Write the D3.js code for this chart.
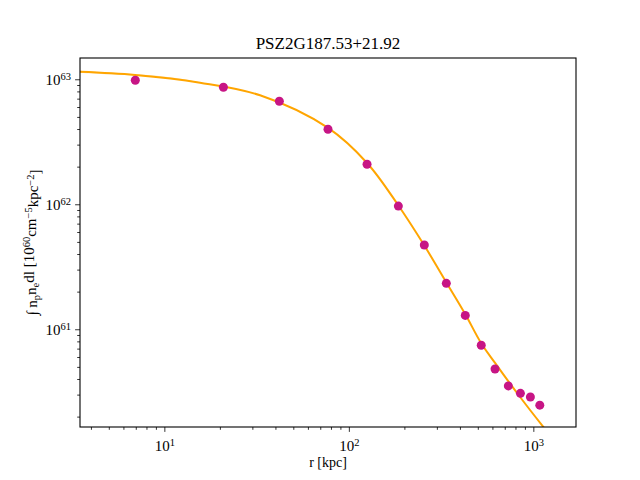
<!DOCTYPE html>
<html>
<head>
<meta charset="utf-8">
<script src="https://cdn.jsdelivr.net/npm/d3@7"></script>
<style>
  body { margin: 0; background: #fff; }
  text { font-family: "Liberation Serif", "DejaVu Serif", serif; fill: #000; }
</style>
</head>
<body>
<div id="chart"></div>
<script>
// measured points (r in kpc, surface brightness integral)
var radius = [6.96, 20.9, 42.0, 77.1, 125.5, 185.5, 256.5, 337.5, 427.6, 522, 620, 732, 851, 964, 1084];
var profile = [9.82e62, 8.63e62, 6.67e62, 3.98e62, 2.09e62, 9.67e61, 4.72e61, 2.33e61, 1.29e61,
               7.45e60, 4.81e60, 3.52e60, 3.07e60, 2.87e60, 2.47e60];

// fitted model
var modelR = [3.3, 6.94, 15.61, 33.02, 77.16, 125.5, 184.8, 255.6, 336.4, 426.4, 520.6, 620.1, 729.4, 847.3, 959.6, 1157];
var modelF = [1.15e63, 1.082e63, 9.39e62, 7.45e62, 4.08e62, 2.14e62, 9.87e61, 4.72e61, 2.39e61,
              1.33e61, 7.77e60, 5.38e60, 3.86e60, 2.87e60, 2.26e60, 1.59e60];

// uncertainty band at small radii
var bandR = [3.3, 5, 7.5, 11, 16];
var bandLo = [1.125e63, 1.095e63, 1.066e63, 1.02e63, 9.37e62];
var bandHi = [1.178e63, 1.13e63, 1.09e63, 1.032e63, 9.41e62];

var xTicks = [10, 100, 1000];
var yTicks = [1e61, 1e62, 1e63];

var width = 640,
    height = 480,
    margin = {top: 58, left: 80, bottom: 53, right: 64},
    w = width - margin.left - margin.right,
    h = height - margin.top - margin.bottom;

var svg = d3.select("#chart").append("svg")
    .attr("width", width)
    .attr("height", height);

var g = svg.append("g")
    .attr("transform", "translate(" + margin.left + "," + margin.top + ")");

var x = d3.scaleLog().domain([3.49, 1703]).range([0, w]),
    y = d3.scaleLog().domain([1.652e60, 1.48e63]).range([h, 0]);

g.append("clipPath").attr("id", "clip")
    .append("rect").attr("width", w).attr("height", h);

var plot = g.append("g").attr("clip-path", "url(#clip)");

// band
var bandData = bandR.map(function (r, i) { return {r: r, lo: bandLo[i], hi: bandHi[i]}; });
plot.append("path")
    .datum(bandData)
    .attr("fill", "orange")
    .attr("opacity", 0.35)
    .attr("d", d3.area()
        .x(function (d) { return x(d.r); })
        .y0(function (d) { return y(d.lo); })
        .y1(function (d) { return y(d.hi); })
        .curve(d3.curveCatmullRom));

// model line
var modelData = modelR.map(function (r, i) { return {r: r, f: modelF[i]}; });
plot.append("path")
    .datum(modelData)
    .attr("fill", "none")
    .attr("stroke", "orange")
    .attr("stroke-width", 2)
    .attr("d", d3.line()
        .x(function (d) { return x(d.r); })
        .y(function (d) { return y(d.f); })
        .curve(d3.curveCatmullRom));

// points
plot.selectAll("circle")
    .data(radius)
    .enter().append("circle")
    .attr("cx", function (d) { return x(d); })
    .attr("cy", function (d, i) { return y(profile[i]); })
    .attr("r", 4.5)
    .attr("fill", "mediumvioletred");

// frame
g.append("rect")
    .attr("width", w).attr("height", h)
    .attr("fill", "none")
    .attr("stroke", "#000")
    .attr("stroke-width", 1.1);

function minorTicks(scale) {
    var d = scale.domain(), out = [];
    for (var e = Math.floor(Math.log10(d[0])); e <= Math.ceil(Math.log10(d[1])); e++) {
        for (var k = 2; k <= 9; k++) {
            var v = k * Math.pow(10, e);
            if (v >= d[0] && v <= d[1]) { out.push(v); }
        }
    }
    return out;
}

function supLabel(sel, exp) {
    sel.text("10").append("tspan")
        .attr("dy", "-0.45em")
        .attr("font-size", "0.7em")
        .text(exp);
}

// x axis
var xAxis = g.append("g").attr("transform", "translate(0," + h + ")");
xAxis.call(d3.axisBottom(x).tickValues(minorTicks(x)).tickSize(2.8).tickFormat(""));
xAxis.call(function (s) { s.select(".domain").remove(); });
var xMaj = g.append("g").attr("transform", "translate(0," + h + ")")
    .call(d3.axisBottom(x).tickValues(xTicks).tickSize(4.9).tickPadding(6).tickFormat(""));
xMaj.select(".domain").remove();
xMaj.selectAll(".tick text").remove();
xMaj.selectAll(".tick").append("text")
    .attr("y", 24)
    .attr("text-anchor", "middle")
    .attr("font-size", 15)
    .each(function (d) { supLabel(d3.select(this), Math.round(Math.log10(d))); });

// y axis
var yAxis = g.append("g")
    .call(d3.axisLeft(y).tickValues(minorTicks(y)).tickSize(2.8).tickFormat(""));
yAxis.select(".domain").remove();
var yMaj = g.append("g")
    .call(d3.axisLeft(y).tickValues(yTicks).tickSize(4.9).tickFormat(""));
yMaj.select(".domain").remove();
yMaj.selectAll(".tick text").remove();
yMaj.selectAll(".tick").append("text")
    .attr("x", -9)
    .attr("y", 5)
    .attr("text-anchor", "end")
    .attr("font-size", 15)
    .each(function (d) { supLabel(d3.select(this), Math.round(Math.log10(d))); });

g.selectAll(".tick line").attr("stroke", "#000").attr("stroke-width", 0.8);

// title
svg.append("text")
    .attr("x", margin.left + w / 2)
    .attr("y", 49)
    .attr("text-anchor", "middle")
    .attr("font-size", 17)
    .text("PSZ2G187.53+21.92");

// x label
svg.append("text")
    .attr("x", margin.left + w / 2)
    .attr("y", 467)
    .attr("text-anchor", "middle")
    .attr("font-size", 14)
    .text("r [kpc]");

// y label
var yl = svg.append("text")
    .attr("transform", "translate(37," + (margin.top + h / 2) + ") rotate(-90)")
    .attr("text-anchor", "middle")
    .attr("font-size", 15);
yl.append("tspan").text("\u222B n");
yl.append("tspan").attr("dy", "0.3em").attr("font-size", "0.7em").text("p");
yl.append("tspan").attr("dy", "-0.3em").text("n");
yl.append("tspan").attr("dy", "0.3em").attr("font-size", "0.7em").text("e");
yl.append("tspan").attr("dy", "-0.3em").text("dl [10");
yl.append("tspan").attr("dy", "-0.45em").attr("font-size", "0.7em").text("60");
yl.append("tspan").attr("dy", "0.45em").text("cm");
yl.append("tspan").attr("dy", "-0.45em").attr("font-size", "0.7em").text("\u22125");
yl.append("tspan").attr("dy", "0.45em").text("kpc");
yl.append("tspan").attr("dy", "-0.45em").attr("font-size", "0.7em").text("\u22122");
yl.append("tspan").attr("dy", "0.45em").text("]");
</script>
</body>
</html>
